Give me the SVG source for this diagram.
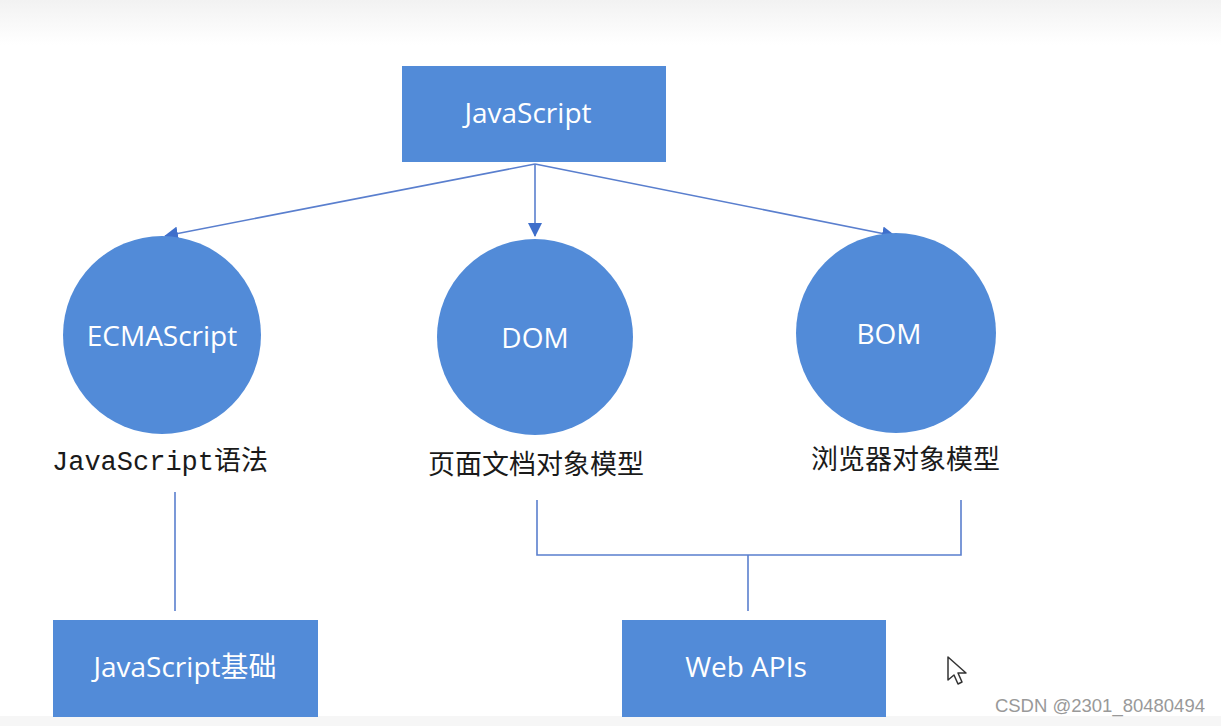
<svg xmlns="http://www.w3.org/2000/svg" width="1221" height="726" viewBox="0 0 1221 726">
<defs>
<linearGradient id="topg" x1="0" y1="0" x2="0" y2="1">
<stop offset="0" stop-color="#f2f2f2"/>
<stop offset="1" stop-color="#ffffff"/>
</linearGradient>
<marker id="arrL" viewBox="0 0 14 14" refX="13" refY="7" markerWidth="14" markerHeight="14" markerUnits="userSpaceOnUse" orient="auto">
<path d="M0,0 L14,7 L0,14 Z" fill="#3f6fcb"/>
</marker>
</defs>
<style>
.box{fill:#528bd8;}
.node-t{font-family:"Open Sans","Noto Sans CJK SC",sans-serif;font-size:28px;fill:#ffffff;text-anchor:middle;dominant-baseline:central;}
.lbl{font-family:"Noto Sans CJK SC",sans-serif;font-size:27px;fill:#1a1a1a;}
.mono{font-family:"Liberation Mono","Noto Sans CJK SC",monospace;}
.conn{stroke:#5a7fce;stroke-width:1.6;fill:none;}
</style>
<rect width="1221" height="726" fill="#ffffff"/>
<rect width="1221" height="45" fill="url(#topg)"/>
<rect y="716" width="1221" height="10" fill="#f6f6f6"/>

<g id="connectors">
<line class="conn" x1="535" y1="164" x2="165" y2="236" marker-end="url(#arrL)"/>
<line class="conn" x1="535" y1="164" x2="535" y2="236" marker-end="url(#arrL)"/>
<line class="conn" x1="535" y1="164" x2="895" y2="236" marker-end="url(#arrL)"/>
<line class="conn" x1="175" y1="492" x2="175" y2="611"/>
<polyline class="conn" points="537,500 537,555 961,555 961,500"/>
<line class="conn" x1="748" y1="555" x2="748" y2="611"/>
</g>

<g id="javascript">
<rect class="box" x="402" y="66" width="264" height="96"/>
<text class="node-t" x="528" y="112">JavaScript</text>
</g>

<g id="ecmascript">
<circle class="box" cx="162" cy="335" r="99"/>
<text class="node-t" x="162" y="335">ECMAScript</text>
<text class="lbl" x="52" y="470"><tspan class="mono">JavaScript</tspan>语法</text>
</g>

<g id="dom">
<circle class="box" cx="535" cy="337" r="98"/>
<text class="node-t" x="535" y="337">DOM</text>
<text class="lbl" x="428" y="474">页面文档对象模型</text>
</g>

<g id="bom">
<circle class="box" cx="896" cy="333" r="100"/>
<text class="node-t" x="889" y="333">BOM</text>
<text class="lbl" x="811" y="469">浏览器对象模型</text>
</g>

<g id="jsbasic">
<rect class="box" x="53" y="620" width="265" height="97"/>
<text class="node-t" x="185" y="666">JavaScript基础</text>
</g>

<g id="webapis">
<rect class="box" x="622" y="620" width="264" height="97"/>
<text class="node-t" x="746" y="666">Web APIs</text>
</g>

<g id="cursor">
<path d="M948,657 L948,680 L954,675 L958,684 L962,682 L958,673 L966,673 Z" fill="#ffffff" stroke="#333333" stroke-width="1.5" stroke-linejoin="round"/>
</g>

<text x="1205" y="712" text-anchor="end" font-family="Liberation Sans, Arial, sans-serif" font-size="18.5" fill="#999999">CSDN @2301_80480494</text>
</svg>
